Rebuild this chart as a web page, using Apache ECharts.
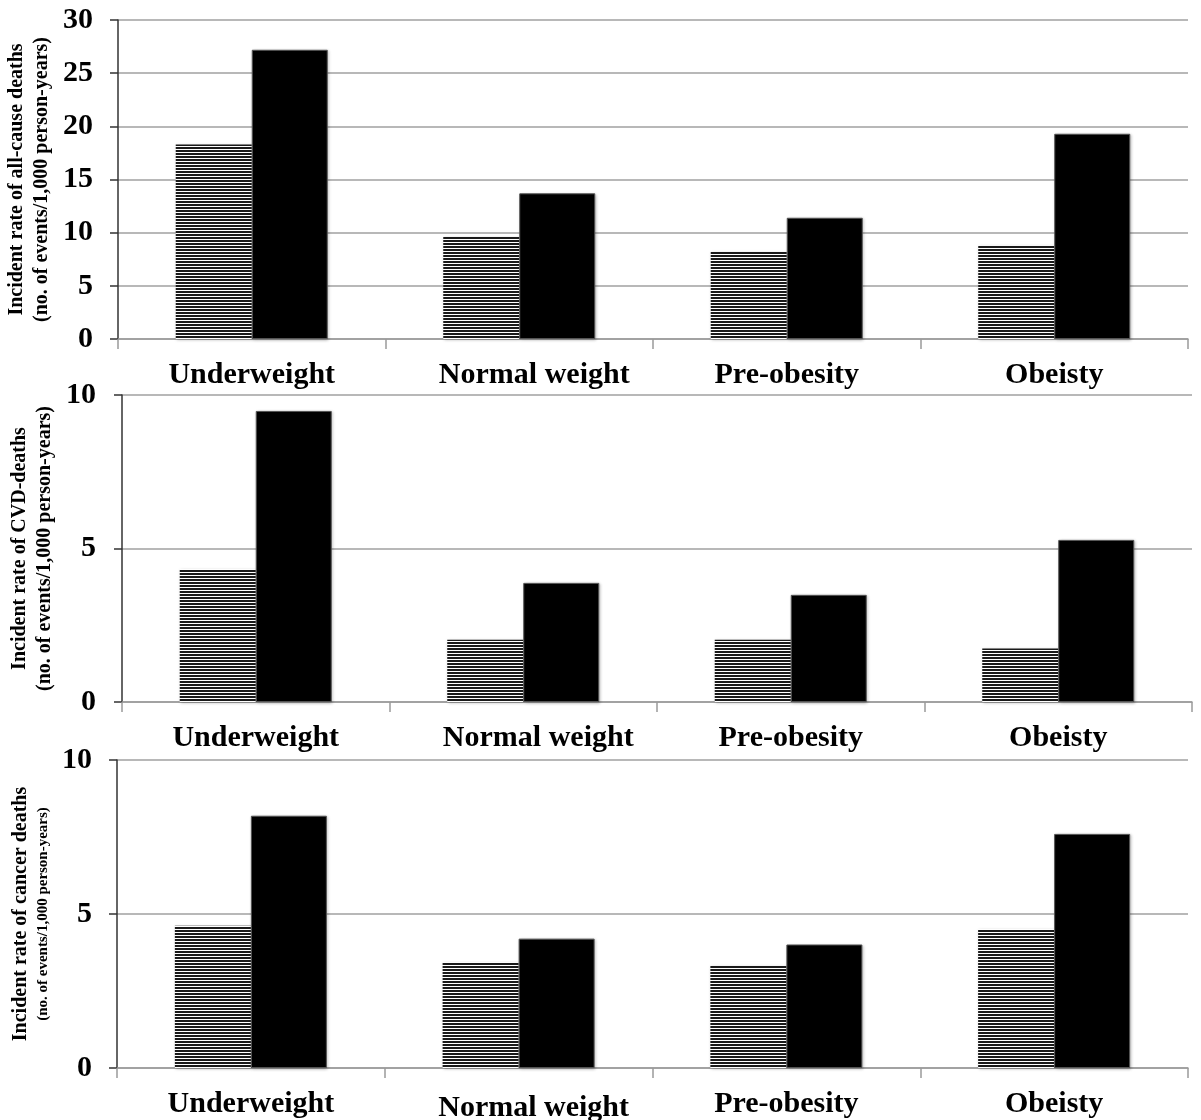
<!DOCTYPE html>
<html>
<head>
<meta charset="utf-8">
<script src="https://cdn.jsdelivr.net/npm/echarts@6/dist/echarts.min.js"></script>
<style>
  html, body { margin: 0; padding: 0; background: #fff; }
  #chart { width: 1201px; height: 1120px; }
</style>
</head>
<body>
<div id="chart"></div>
<script>
// BMI categories shared by all three panels
const categories = ['Underweight', 'Normal weight', 'Pre-obesity', 'Obeisty'];

// Panel 1: all-cause deaths (per 1,000 person-years)
const allCauseHatched = [18.3, 9.6, 8.2, 8.8];
const allCauseSolid   = [27.2, 13.7, 11.4, 19.3];

// Panel 2: CVD deaths
const cvdHatched = [4.33, 2.03, 2.03, 1.74];
const cvdSolid   = [9.48, 3.88, 3.49, 5.28];

// Panel 3: cancer deaths
const cancerHatched = [4.62, 3.43, 3.32, 4.51];
const cancerSolid   = [8.19, 4.20, 4.01, 7.60];

// Y-axis ranges / steps
const yAxis1 = { min: 0, max: 30, interval: 5 };
const yAxis2 = { min: 0, max: 10, interval: 5 };
const yAxis3 = { min: 0, max: 10, interval: 5 };

// Horizontal hatch fill
function makeHatch() {
  const c = document.createElement('canvas');
  c.width = 4; c.height = 3;
  const ctx = c.getContext('2d');
  ctx.fillStyle = '#ffffff';
  ctx.fillRect(0, 0, 4, 3);
  ctx.fillStyle = '#1a1a1a';
  ctx.fillRect(0, 0, 4, 2);
  return c;
}
const hatch = { image: makeHatch(), repeat: 'repeat' };

const FONT = '"Liberation Serif", "Times New Roman", serif';

const grids = [
  { left: 118, top: 20,  width: 1070, height: 319, outerBoundsMode: 'none' },
  { left: 122, top: 395, width: 1070, height: 307, outerBoundsMode: 'none' },
  { left: 117, top: 760, width: 1071, height: 308, outerBoundsMode: 'none' }
];

const names = [
  '{a|Incident rate of all-cause deaths}\n{a|(no. of events/1,000 person-years)}',
  '{a|Incident rate of CVD-deaths}\n{a|(no. of events/1,000 person-years)}',
  '{a|Incident rate of cancer deaths}\n{b|(no. of events/1,000 person-years)}'
];
const nameGaps = [63, 65, 63];
const labelMargins = [17, 18, 17];
const ranges = [yAxis1, yAxis2, yAxis3];
const hatchedSets = [allCauseHatched, cvdHatched, cancerHatched];
const solidSets = [allCauseSolid, cvdSolid, cancerSolid];

const catText = { fontFamily: FONT, fontWeight: 'bold', fontSize: 30, color: '#000' };

const xAxes = grids.map((g, i) => ({
  type: 'category',
  gridIndex: i,
  data: categories,
  axisLine: { lineStyle: { color: '#9a9a9a', width: 1.5 } },
  axisTick: { show: true, interval: 0, length: 10, lineStyle: { color: '#9a9a9a', width: 1.5 } },
  axisLabel: {
    interval: 0,
    hideOverlap: false,
    margin: 21,
    ...catText,
    // the second category label sits a little right of its slot centre
    formatter: (v, idx) => idx === 1 ? '{n|' + v + '}' : '{c|' + v + '}',
    rich: {
      c: { ...catText },
      n: { ...catText, padding: [i === 2 ? 4 : 0, 0, 0, 30] }
    }
  }
}));

const yAxes = grids.map((g, i) => ({
  type: 'value',
  gridIndex: i,
  min: ranges[i].min,
  max: ranges[i].max,
  interval: ranges[i].interval,
  name: names[i],
  nameLocation: 'middle',
  nameGap: nameGaps[i],
  nameTextStyle: {
    rich: {
      a: { fontFamily: FONT, fontWeight: 'bold', fontSize: 20, color: '#000', lineHeight: 25 },
      b: { fontFamily: FONT, fontWeight: 'bold', fontSize: 15, color: '#000', lineHeight: 20 }
    }
  },
  axisLine: { show: true, lineStyle: { color: '#333', width: 1.5 } },
  axisTick: { show: true, length: 8, lineStyle: { color: '#333', width: 1.5 } },
  axisLabel: {
    margin: labelMargins[i] + 8,
    color: '#000',
    fontFamily: FONT,
    fontWeight: 'bold',
    fontSize: 30
  },
  splitLine: { show: true, lineStyle: { color: '#a0a0a0', width: 1.5 } }
}));

const series = [];
grids.forEach((g, i) => {
  series.push({
    type: 'bar',
    xAxisIndex: i,
    yAxisIndex: i,
    data: hatchedSets[i],
    barWidth: 76,
    barGap: '0%',
    itemStyle: {
      color: hatch,
      shadowColor: 'rgba(0,0,0,0.25)',
      shadowBlur: 3,
      shadowOffsetX: 1,
      shadowOffsetY: 1
    },
    silent: true
  });
  series.push({
    type: 'bar',
    xAxisIndex: i,
    yAxisIndex: i,
    data: solidSets[i],
    barWidth: 76,
    barGap: '0%',
    itemStyle: {
      color: '#000',
      borderColor: '#555',
      borderWidth: 1,
      shadowColor: 'rgba(0,0,0,0.25)',
      shadowBlur: 3,
      shadowOffsetX: 1,
      shadowOffsetY: 1
    },
    silent: true
  });
});

const chart = echarts.init(document.getElementById('chart'), null, { renderer: 'canvas' });
chart.setOption({
  animation: false,
  backgroundColor: '#fff',
  grid: grids,
  xAxis: xAxes,
  yAxis: yAxes,
  series: series
});
</script>
</body>
</html>
